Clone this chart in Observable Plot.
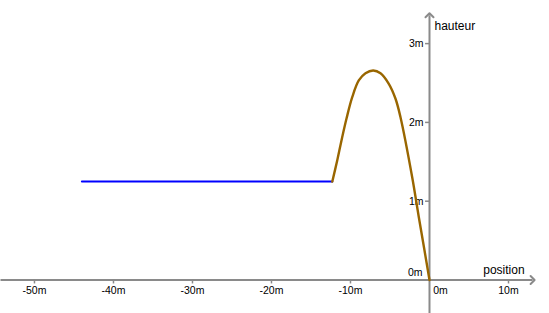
<!DOCTYPE html>
<html>
<head>
<meta charset="utf-8">
<script src="https://cdn.jsdelivr.net/npm/d3@7"></script>
<script src="https://cdn.jsdelivr.net/npm/@observablehq/plot@0.6"></script>
<style>
  html, body { margin: 0; padding: 0; background: #fff; }
  #chart { width: 549px; height: 313px; }
</style>
</head>
<body>
<div id="chart"></div>
<script>
// Horizontal run (blue), metres
const runX = [-44.0, -12.3];
const runY = [1.25, 1.25];

// Jump trajectory (brown)
const jumpX = [-12.3, -11.68, -11.05, -10.51, -9.78, -8.95, -8.10, -7.13, -6.20, -5.15, -4.30, -3.67, -2.19, -1.35, -0.63, 0];
const jumpY = [1.25, 1.517, 1.812, 2.046, 2.320, 2.532, 2.624, 2.659, 2.624, 2.490, 2.300, 2.066, 1.305, 0.797, 0.374, 0];

// Axis ticks and labels
const xTicks = [-50, -40, -30, -20, -10, 10];
const xTickLabels = ["-50m", "-40m", "-30m", "-20m", "-10m", "10m"];
const yTicks = [1, 2, 3];
const yTickLabels = ["1m", "2m", "3m"];
const zeroLabel = "0m";
const xAxisName = "position";
const yAxisName = "hauteur";

// View window and axis extents
const xDomain = [-54.3, 15.19];
const yDomain = [-0.425, 3.547];
const xAxisExtent = [-54.3, 13.05];
const yAxisExtent = [-0.425, 3.36];

const runData = runX.map((x, i) => ({x, y: runY[i]}));
const jumpData = jumpX.map((x, i) => ({x, y: jumpY[i]}));
const xTickData = xTicks.map((x, i) => ({x, label: xTickLabels[i]}));
const yTickData = yTicks.map((y, i) => ({y, label: yTickLabels[i]}));

const axisColor = "#8a8a8a";

const chart = Plot.plot({
  width: 549,
  height: 313,
  margin: 0,
  x: {domain: xDomain, axis: null},
  y: {domain: yDomain, axis: null},
  style: {fontFamily: "'Liberation Sans', Arial, sans-serif", fontSize: "10.5px", background: "#fff", color: "#000"},
  marks: [
    // axes
    Plot.link([0], {x1: xAxisExtent[0], x2: xAxisExtent[1], y1: 0, y2: 0, stroke: axisColor, strokeWidth: 2, markerEnd: "arrow"}),
    Plot.link([0], {x1: 0, x2: 0, y1: yAxisExtent[0], y2: yAxisExtent[1], stroke: axisColor, strokeWidth: 2, markerEnd: "arrow"}),
    Plot.ruleX(xTickData, {x: "x", y1: 0, y2: -0.05, stroke: axisColor, strokeWidth: 1.5}),
    Plot.ruleY(yTickData, {y: "y", x1: -0.5, x2: 0, stroke: axisColor, strokeWidth: 1.5}),
    Plot.text(xTickData, {x: "x", y: 0, text: "label", dy: 11, fill: "#000"}),
    Plot.text(yTickData, {y: "y", x: 0, text: "label", textAnchor: "end", dx: -6, fill: "#000"}),
    Plot.text([zeroLabel], {x: 0, y: 0, text: d => d, dx: 11, dy: 11, fill: "#000"}),
    Plot.text([zeroLabel], {x: 0, y: 0, text: d => d, textAnchor: "end", dx: -7, dy: -7, fill: "#000"}),
    Plot.text([xAxisName], {x: xAxisExtent[1], y: 0, text: d => d, textAnchor: "end", dx: -8, dy: -10, fontSize: 12, fill: "#000"}),
    Plot.text([yAxisName], {x: 0, y: yAxisExtent[1], text: d => d, textAnchor: "start", dx: 5, dy: 11, fontSize: 12, fill: "#000"}),
    // data
    Plot.line(runData, {x: "x", y: "y", stroke: "#0000ff", strokeWidth: 2}),
    Plot.line(jumpData, {x: "x", y: "y", stroke: "#996600", strokeWidth: 2.4, curve: "catmull-rom"})
  ]
});
document.getElementById("chart").appendChild(chart);
</script>
</body>
</html>
